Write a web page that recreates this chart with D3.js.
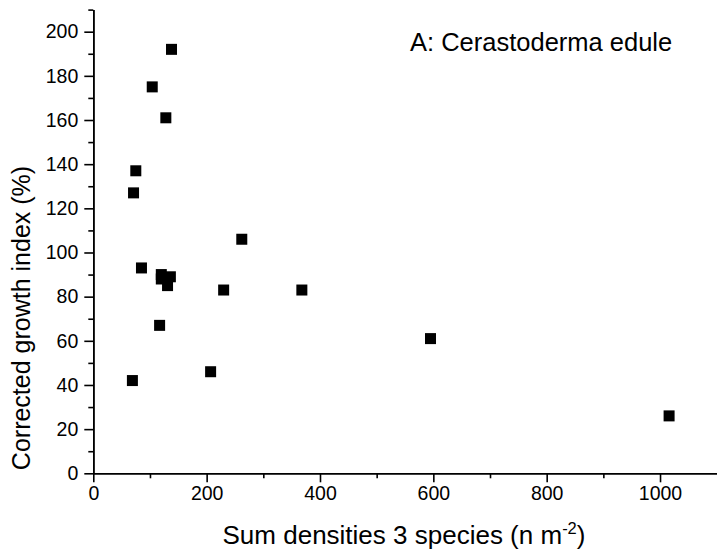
<!DOCTYPE html>
<html><head><meta charset="utf-8">
<script src="https://cdn.jsdelivr.net/npm/d3@7"></script>
<style>
html,body{margin:0;padding:0;background:#fff;}
text{font-family:"Liberation Sans",Arial,sans-serif;fill:#000;}
</style></head>
<body><svg id="c" width="717" height="556"></svg>
<script>
const densities = [138,104,128,75,71,85,120,120,136,131,117,69,262,230,207,368,595,1016];
const growthIndex = [192,175,161,137,127,93,90,88,89,85,67,42,106,83,46,83,61,26];
const xMajorTicks = [0,200,400,600,800,1000];
const xMinorTicks = [100,300,500,700,900];
const yMajorTicks = [0,20,40,60,80,100,120,140,160,180,200];
const yMinorTicks = [10,30,50,70,90,110,130,150,170,190,210];
const title = "A: Cerastoderma edule";

const svg = d3.select("#c");
const x = d3.scaleLinear().domain([0,1100]).range([93.3,716.7]);
const y = d3.scaleLinear().domain([0,210]).range([473.3,9.6]);

// x axis
const gx = svg.append("g").attr("transform",`translate(0,${y(0)})`);
gx.call(d3.axisBottom(x).tickValues(xMajorTicks).tickSize(9).tickSizeOuter(0).tickPadding(4).tickFormat(d3.format("d")));
gx.append("g").call(d3.axisBottom(x).tickValues(xMinorTicks).tickSize(5).tickSizeOuter(0).tickFormat(""));
// y axis
const gy = svg.append("g").attr("transform",`translate(${x(0)},0)`);
gy.call(d3.axisLeft(y).tickValues(yMajorTicks).tickSize(9).tickSizeOuter(0).tickPadding(6).tickFormat(d3.format("d")));
gy.append("g").call(d3.axisLeft(y).tickValues(yMinorTicks).tickSize(5).tickSizeOuter(0).tickFormat(""));

svg.selectAll(".domain").attr("stroke","#000").attr("stroke-width",1.6);
svg.selectAll(".tick line").attr("stroke","#000").attr("stroke-width",1.6);
svg.selectAll(".tick text").attr("font-size",19.5).attr("font-family","Liberation Sans, Arial, sans-serif").attr("fill","#000");

// points
const sz = 11;
svg.append("g").selectAll("rect").data(densities.map((d,i)=>[d,growthIndex[i]])).join("rect")
  .attr("x",d=>x(d[0])-sz/2).attr("y",d=>y(d[1])-sz/2)
  .attr("width",sz).attr("height",sz).attr("fill","#000");

// labels
const xl = svg.append("text").attr("x",404).attr("y",544).attr("text-anchor","middle").attr("font-size",26);
xl.append("tspan").text("Sum densities 3 species (n m");
xl.append("tspan").attr("font-size",16.5).attr("dy",-10).text("-2");
xl.append("tspan").attr("dy",10).text(")");

svg.append("text").attr("transform","translate(30,318) rotate(-90)").attr("text-anchor","middle").attr("font-size",25)
  .text("Corrected growth index (%)");

svg.append("text").attr("x",410).attr("y",51).attr("font-size",25.5).text(title);
</script></body></html>
